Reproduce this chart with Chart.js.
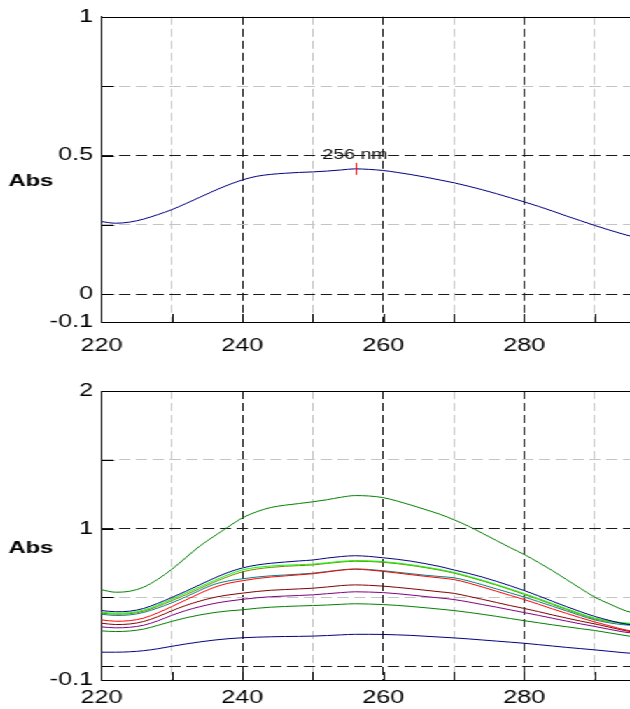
<!DOCTYPE html>
<html><head><meta charset="utf-8">
<script src="https://cdn.jsdelivr.net/npm/chart.js@4.4.1/dist/chart.umd.min.js"></script>
<style>
html,body{margin:0;padding:0;background:#fff;overflow:hidden;}
#wrap{position:absolute;left:0;top:0;width:450px;height:709px;transform:scaleX(1.4);transform-origin:0 0;}
#c1{position:absolute;left:0;top:0;}
#c2{position:absolute;left:0;top:360px;}
</style></head><body>
<div id="wrap">
<canvas id="c1" width="450" height="360"></canvas>
<canvas id="c2" width="450" height="349"></canvas>
</div>
<script>
// ---------- data ----------
const wavelengths = [220,222,224,226,228,230,232,234,236,238,240,242,244,246,248,250,252,254,256,258,260,262,264,266,268,270,272,274,276,278,280,282,284,286,288,290,292,294,295];

const topSpectrum = [0.262,0.256,0.260,0.271,0.287,0.305,0.327,0.350,0.373,0.394,0.412,0.425,0.432,0.436,0.439,0.441,0.444,0.448,0.452,0.450,0.446,0.439,0.431,0.422,0.412,0.402,0.390,0.377,0.363,0.348,0.333,0.317,0.300,0.282,0.265,0.248,0.232,0.217,0.210];

const specGreenHigh = [0.556,0.538,0.545,0.575,0.632,0.705,0.790,0.875,0.945,1.013,1.078,1.122,1.153,1.170,1.182,1.195,1.210,1.228,1.240,1.237,1.225,1.200,1.170,1.138,1.105,1.065,1.020,0.968,0.915,0.862,0.812,0.755,0.695,0.630,0.565,0.502,0.455,0.410,0.393];
const specNavy      = [0.405,0.396,0.400,0.420,0.457,0.500,0.545,0.593,0.640,0.682,0.714,0.735,0.748,0.757,0.765,0.772,0.786,0.797,0.803,0.798,0.788,0.777,0.763,0.745,0.725,0.700,0.676,0.649,0.618,0.585,0.550,0.512,0.472,0.433,0.396,0.362,0.334,0.310,0.302];
const specLime      = [0.393,0.385,0.389,0.408,0.444,0.488,0.532,0.578,0.623,0.665,0.700,0.718,0.728,0.734,0.738,0.742,0.752,0.762,0.768,0.766,0.760,0.750,0.737,0.721,0.703,0.682,0.655,0.626,0.595,0.562,0.528,0.492,0.455,0.418,0.382,0.350,0.330,0.316,0.312];
const specOlive     = [0.386,0.378,0.382,0.400,0.435,0.477,0.520,0.566,0.611,0.652,0.686,0.706,0.718,0.726,0.731,0.736,0.747,0.757,0.763,0.761,0.755,0.745,0.732,0.716,0.698,0.677,0.650,0.621,0.590,0.557,0.522,0.486,0.449,0.412,0.377,0.344,0.325,0.312,0.307];
const specTeal      = [0.378,0.369,0.373,0.391,0.423,0.461,0.505,0.552,0.595,0.620,0.635,0.648,0.657,0.663,0.669,0.676,0.688,0.700,0.707,0.703,0.694,0.683,0.672,0.661,0.652,0.643,0.621,0.593,0.563,0.533,0.503,0.470,0.436,0.402,0.368,0.337,0.316,0.302,0.298];
const specRed       = [0.337,0.327,0.331,0.350,0.388,0.434,0.482,0.530,0.573,0.603,0.621,0.637,0.648,0.656,0.664,0.672,0.685,0.698,0.705,0.699,0.689,0.677,0.665,0.653,0.642,0.630,0.606,0.577,0.546,0.515,0.485,0.451,0.417,0.384,0.352,0.322,0.295,0.268,0.258];
const specMaroon    = [0.313,0.303,0.307,0.325,0.360,0.403,0.442,0.474,0.500,0.518,0.531,0.543,0.552,0.557,0.562,0.567,0.576,0.586,0.591,0.588,0.582,0.573,0.563,0.552,0.541,0.530,0.509,0.487,0.464,0.441,0.420,0.397,0.373,0.350,0.328,0.308,0.285,0.262,0.252];
const specPurple    = [0.286,0.279,0.283,0.298,0.330,0.370,0.405,0.433,0.456,0.473,0.486,0.497,0.505,0.510,0.514,0.519,0.527,0.535,0.541,0.539,0.535,0.527,0.517,0.506,0.496,0.485,0.468,0.449,0.430,0.410,0.390,0.370,0.349,0.328,0.308,0.289,0.269,0.250,0.243];
const specGreenLow  = [0.257,0.252,0.256,0.270,0.297,0.326,0.352,0.373,0.390,0.402,0.410,0.421,0.429,0.434,0.438,0.441,0.445,0.450,0.454,0.452,0.448,0.442,0.434,0.425,0.415,0.405,0.392,0.378,0.363,0.347,0.331,0.316,0.301,0.287,0.273,0.260,0.243,0.226,0.218];
const specNavyLow   = [0.102,0.102,0.105,0.113,0.127,0.145,0.162,0.177,0.190,0.200,0.207,0.211,0.214,0.216,0.217,0.219,0.223,0.228,0.232,0.232,0.231,0.228,0.224,0.218,0.212,0.206,0.199,0.191,0.183,0.175,0.167,0.157,0.147,0.137,0.128,0.119,0.109,0.099,0.095];

// ticks
const xTickValues = [220,230,240,250,260,270,280,290];
const xTickLabels = ['220','','240','','260','','280',''];
const xMajor = [240,260,280];
const yTopTickValues = [-0.1,0,0.25,0.5,0.75,1];
const yTopTickLabels = ['-0.1','0','','0.5','','1'];
const yTopMajor = [0,0.5];
const yBotTickValues = [-0.1,0,0.5,1,1.5,2];
const yBotTickLabels = ['-0.1','','','1','','2'];
const yBotMajor = [0,1];
const peakWavelength = 256;
const axisTitle = 'Abs';

// ---------- drawing ----------
const FONT = "'Liberation Sans', Arial, sans-serif";
const DARK = '#1a1a1a', LIGHT = '#c4c4c4', CLEAR = 'rgba(0,0,0,0)';

function near(a, b) { return Math.abs(a - b) < 1e-6; }
function labelFor(values, labels) {
  return v => { const i = values.findIndex(t => near(t, v)); return i < 0 ? '' : labels[i]; };
}
function gridColorFn(values, major) {
  return ctx => {
    if (!ctx.tick) return CLEAR;
    const v = ctx.tick.value;
    if (near(v, values[0]) || near(v, values[values.length - 1])) return CLEAR;
    return major.some(m => near(m, v)) ? DARK : LIGHT;
  };
}

const framePlugin = {
  id: 'frame',
  beforeDraw(chart, args, o) {
    if (!o.peak) return;
    const {ctx, scales: {x, y}} = chart;
    const val = o.peak.data[wavelengths.indexOf(o.peak.wl)];
    ctx.save();
    ctx.fillStyle = '#111';
    ctx.font = '14px ' + FONT;
    ctx.textAlign = 'center';
    ctx.textBaseline = 'alphabetic';
    ctx.fillText(o.peak.wl + ' nm', x.getPixelForValue(o.peak.wl), y.getPixelForValue(val) - 9.5);
    ctx.restore();
  },
  afterDatasetsDraw(chart, args, o) {
    const {ctx, chartArea: a, scales: {x, y}} = chart;
    ctx.save();
    ctx.strokeStyle = '#000';
    ctx.lineWidth = 1;
    ctx.beginPath();
    const ty = Math.round(a.top) + 0.5;
    ctx.moveTo(a.left, ty); ctx.lineTo(a.right, ty);
    xTickValues.forEach(v => {
      const px = Math.round(x.getPixelForValue(v)) + 0.5;
      ctx.moveTo(px, a.bottom); ctx.lineTo(px, a.bottom - 8);
    });
    o.yTicks.forEach(v => {
      const py = Math.round(y.getPixelForValue(v)) + 0.5;
      ctx.moveTo(a.left, py); ctx.lineTo(a.left + 9, py);
    });
    ctx.stroke();
    if (o.peak) {
      const val = o.peak.data[wavelengths.indexOf(o.peak.wl)];
      const px = Math.round(x.getPixelForValue(o.peak.wl)) + 0.5;
      const py = y.getPixelForValue(val);
      ctx.strokeStyle = '#ff0000';
      ctx.beginPath(); ctx.moveTo(px, py - 6); ctx.lineTo(px, py + 6); ctx.stroke();
    }
    ctx.fillStyle = '#000';
    ctx.font = 'bold 17px ' + FONT;
    ctx.textAlign = 'center';
    ctx.textBaseline = 'middle';
    ctx.fillText(axisTitle, 22, o.titleY);
    ctx.restore();
  }
};

function makeChart(id, datasets, c) {
  return new Chart(document.getElementById(id), {
    type: 'line',
    data: { datasets },
    options: {
      responsive: false, animation: false, devicePixelRatio: 1,
      layout: { padding: { left: 0, right: 0, top: c.padTop, bottom: c.padBottom } },
      elements: { point: { radius: 0 }, line: { borderWidth: 1, cubicInterpolationMode: 'monotone' } },
      plugins: {
        legend: { display: false }, tooltip: { enabled: false },
        frame: { yTicks: c.yValues, titleY: c.titleY, peak: c.peak }
      },
      scales: {
        x: {
          type: 'linear', min: 220, max: 295,
          afterBuildTicks: s => { s.ticks = xTickValues.map(v => ({ value: v })); },
          afterFit: s => { s.height = c.xHeight; },
          ticks: { autoSkip: false, maxRotation: 0, padding: c.xPad, color: '#000',
                   font: { family: FONT, size: 18 }, callback: labelFor(xTickValues, xTickLabels) },
          grid: { drawTicks: false, lineWidth: 1, color: gridColorFn(xTickValues.concat([295]), xMajor) },
          border: { display: true, color: '#000', width: 1, dash: [8, 4] }
        },
        y: {
          type: 'linear', min: c.yValues[0], max: c.yValues[c.yValues.length - 1],
          afterBuildTicks: s => { s.ticks = c.yValues.map(v => ({ value: v })); },
          afterFit: s => { s.width = 72.4; },
          ticks: { autoSkip: false, padding: 6, color: '#000',
                   font: { family: FONT, size: 18 }, callback: labelFor(c.yValues, c.yLabels) },
          grid: { drawTicks: false, lineWidth: 1, color: gridColorFn(c.yValues, c.yMajor) },
          border: { display: true, color: '#000', width: 1, dash: [8, 4] }
        }
      }
    },
    plugins: [framePlugin]
  });
}

function series(arr, color) {
  return { data: wavelengths.map((w, i) => ({ x: w, y: arr[i] })), borderColor: color, borderWidth: 1, fill: false };
}

makeChart('c1', [series(topSpectrum, '#000080')], {
  padTop: 14, padBottom: 4, xHeight: 34, xPad: 13,
  yValues: yTopTickValues, yLabels: yTopTickLabels, yMajor: yTopMajor,
  titleY: 181.5, peak: { wl: peakWavelength, data: topSpectrum }
});

makeChart('c2', [
  series(specGreenHigh, '#008000'),
  series(specNavy, '#000080'),
  series(specLime, '#00ff00'),
  series(specOlive, '#808000'),
  series(specRed, '#ff0000'),
  series(specTeal, '#008080'),
  series(specMaroon, '#800000'),
  series(specPurple, '#800080'),
  series(specGreenLow, '#008000'),
  series(specNavyLow, '#000080')
], {
  padTop: 31, padBottom: 0, xHeight: 29, xPad: 7,
  yValues: yBotTickValues, yLabels: yBotTickLabels, yMajor: yBotMajor,
  titleY: 188, peak: null
});
</script>
</body></html>
